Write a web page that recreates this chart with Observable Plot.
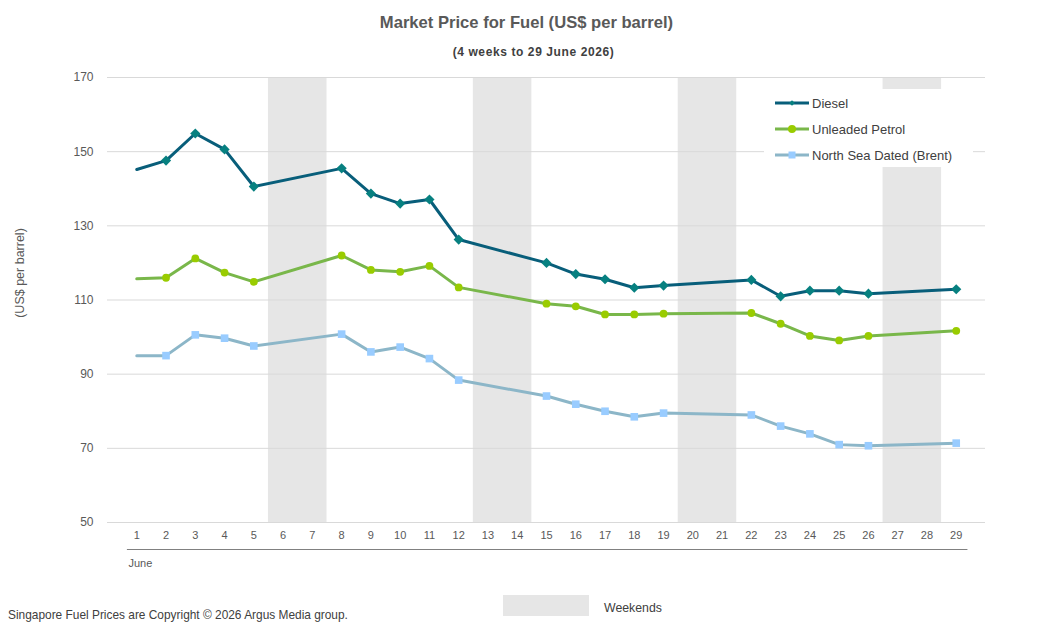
<!DOCTYPE html>
<html><head><meta charset="utf-8">
<script src="https://cdn.jsdelivr.net/npm/d3@7"></script>
<script src="https://cdn.jsdelivr.net/npm/@observablehq/plot@0.6"></script>
<style>
body{margin:0;background:#fff;font-family:"Liberation Sans",Arial,sans-serif;}
#wrap{position:relative;width:1053px;height:635px;overflow:hidden;}
.abs{position:absolute;white-space:nowrap;}
#chart{position:absolute;left:0;top:0;}
.leg{position:absolute;display:flex;align-items:center;font-size:13px;color:#404040;height:16px;}
.leg svg{margin-right:3px;}
</style></head><body>
<div id="wrap">
  <div id="chart"></div>
  <div class="abs" style="left:0;width:1053px;top:13px;text-align:center;font-weight:bold;font-size:16.6px;color:#595959">Market Price for Fuel (US$ per barrel)</div>
  <div class="abs" style="left:7px;width:1053px;top:45px;text-align:center;font-weight:bold;font-size:12px;letter-spacing:0.6px;color:#404040">(4 weeks to 29 June 2026)</div>
  <div class="abs" style="left:20px;top:273px;transform:translate(-50%,-50%) rotate(-90deg);font-size:12.5px;color:#595959">(US$ per barrel)</div>
  <div class="abs" style="left:764px;top:89px;width:209px;height:78px;background:#fff"></div>
  <div id="legend"></div>
  <div class="abs" style="left:8px;top:608px;font-size:11.9px;color:#404040">Singapore Fuel Prices are Copyright © 2026 Argus Media group.</div>
  <div class="abs" style="left:503px;top:595px;width:86px;height:21px;background:#e6e6e6"></div>
  <div class="abs" style="left:604px;top:601px;font-size:12.3px;color:#404040">Weekends</div>
</div>
<script>
const days   = [1,2,3,4,5,8,9,10,11,12,15,16,17,18,19,22,23,24,25,26,29];
const diesel = [145.2,147.6,154.9,150.6,140.6,145.5,138.7,136.0,137.1,126.3,120.0,117.0,115.6,113.3,113.9,115.4,111.0,112.5,112.5,111.7,112.9];
const petrol = [115.7,116.0,121.2,117.4,114.9,122.0,118.1,117.6,119.2,113.4,109.0,108.3,106.1,106.1,106.3,106.5,103.6,100.3,99.1,100.3,101.7];
const brent  = [95.0,95.0,100.6,99.7,97.6,100.8,96.0,97.3,94.2,88.4,84.1,81.9,80.0,78.5,79.5,79.0,76.0,73.9,71.0,70.7,71.4];

const seriesNames = ["Diesel","Unleaded Petrol","North Sea Dated (Brent)"];
const lineColors  = ["#085E7A","#79B74A","#8CB6C8"];
const markColors  = ["#078080","#99CC00","#99CCFF"];
const markSymbols = ["diamond2","circle","square"];
const markRadius  = [4.6,3.9,4.3];

const weekendStart = [6,13,20,27];
const weekendEnd   = [7,14,21,28];
const xTicks = [1,2,3,4,5,6,7,8,9,10,11,12,13,14,15,16,17,18,19,20,21,22,23,24,25,26,27,28,29];
const yTicks = [50,70,90,110,130,150,170];
const monthLabel = "June";

const seriesValues = [diesel, petrol, brent];
const rows = [];
seriesValues.forEach((vals, s) => vals.forEach((v, i) => rows.push({series: seriesNames[s], s, i, day: days[i], value: v})));
const weekends = weekendStart.map((a, i) => ({a, b: weekendEnd[i]}));

const marks = [
  Plot.rect(weekends, {x1: d => d.a - 0.5, x2: d => d.b + 0.5, y1: 50, y2: 170, fill: "#e6e6e6"}),
  Plot.ruleY(yTicks, {stroke: "#d9d9d9", strokeWidth: 1}),
  Plot.ruleY([50], {x1: 0.68, x2: 29.4, dy: 27, stroke: "#808080", strokeWidth: 1}),
  Plot.text([monthLabel], {frameAnchor: "bottom-left", dx: 21, dy: 44, fill: "#595959", fontSize: 11, textAnchor: "start"})
];
seriesNames.forEach((name, s) => {
  const data = rows.filter(r => r.s === s);
  marks.push(Plot.line(data, {x: "day", y: "value", stroke: lineColors[s], strokeWidth: 3, strokeLinejoin: "round", strokeLinecap: "round"}));
});
seriesNames.forEach((name, s) => {
  const data = rows.filter(r => r.s === s && r.i > 0);
  marks.push(Plot.dot(data, {x: "day", y: "value", symbol: markSymbols[s], r: markRadius[s], fill: markColors[s], stroke: "none"}));
});

const chart = Plot.plot({
  width: 1053, height: 635,
  marginTop: 77, marginBottom: 113, marginLeft: 107, marginRight: 68,
  style: {fontFamily: "'Liberation Sans', Arial, sans-serif", fontSize: "12px", color: "#595959", background: "transparent"},
  x: {domain: [0, 30], ticks: xTicks, tickSize: 0, tickPadding: 9, tickFormat: d => String(d), label: null},
  y: {domain: [50, 170], ticks: yTicks, tickSize: 0, tickPadding: 14, label: null},
  marks
});
document.getElementById("chart").appendChild(chart);
chart.querySelectorAll("g[aria-label='x-axis tick label'] text, g[aria-label='x-axis'] text").forEach(t => t.setAttribute("font-size", "11"));

// legend
const legend = document.getElementById("legend");
const legTops = [95, 121, 147];
seriesNames.forEach((name, s) => {
  const el = document.createElement("div");
  el.className = "leg";
  el.style.left = "775px";
  el.style.top = legTops[s] + "px";
  const sz = [4, 8, 7][s];
  let shape;
  if (s === 0) shape = `<rect x="${17 - sz/2}" y="${8 - sz/2}" width="${sz}" height="${sz}" transform="rotate(45 17 8)" fill="${markColors[s]}"/>`;
  else if (s === 1) shape = `<circle cx="17" cy="8" r="${sz/2}" fill="${markColors[s]}"/>`;
  else shape = `<rect x="${17 - sz/2}" y="${8 - sz/2}" width="${sz}" height="${sz}" fill="${markColors[s]}"/>`;
  el.innerHTML = `<svg width="34" height="16"><line x1="0" y1="8" x2="34" y2="8" stroke="${lineColors[s]}" stroke-width="3"/>${shape}</svg><span>${name}</span>`;
  legend.appendChild(el);
});
</script>
</body></html>
